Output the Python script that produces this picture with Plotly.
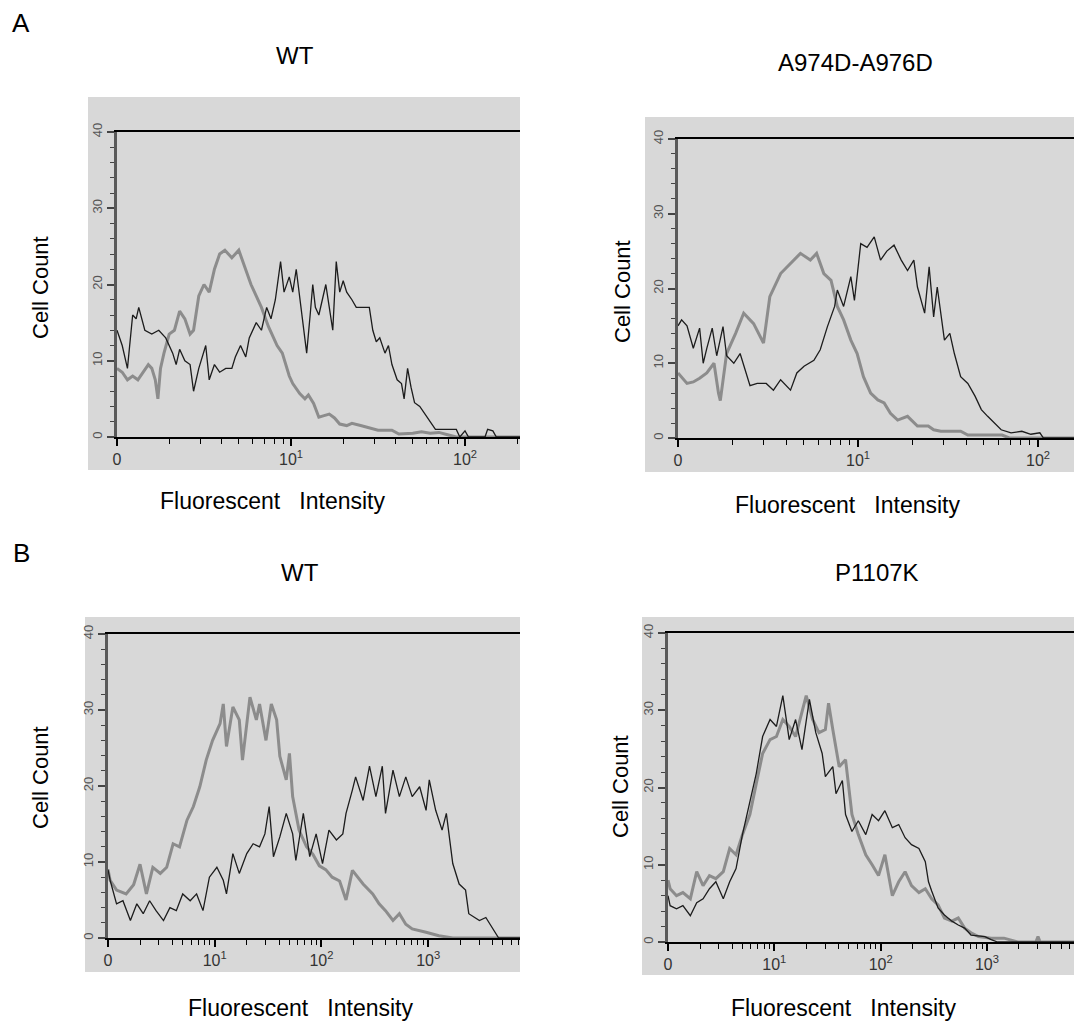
import plotly.graph_objects as go

W, H = 1082, 1025

# ---------------- DATA (x in decades: value = 10**exponent; y = cell count) ----------------
# Panel A - WT
A_WT_black_exp = [0.00, 0.03, 0.06, 0.09, 0.11, 0.125, 0.16, 0.20, 0.24, 0.28, 0.32, 0.34, 0.36, 0.39, 0.42,
                  0.44, 0.47, 0.51, 0.53, 0.56, 0.59, 0.625, 0.66, 0.68, 0.71, 0.74, 0.76, 0.80, 0.83, 0.86,
                  0.885, 0.91, 0.94, 0.96, 0.99, 1.01, 1.03, 1.05, 1.07, 1.09, 1.11, 1.125, 1.14, 1.16, 1.18,
                  1.20, 1.22, 1.24, 1.26, 1.28, 1.30, 1.32, 1.35, 1.375, 1.41, 1.45, 1.47, 1.49, 1.51, 1.54,
                  1.56, 1.58, 1.61, 1.635, 1.65, 1.67, 1.69, 1.71, 1.74, 1.77, 1.80, 1.83, 1.89, 1.95, 1.97,
                  2.00, 2.02, 2.115, 2.13, 2.16, 2.18, 2.32]
A_WT_black_cnt = [14, 12, 9, 16, 15.5, 17, 14, 13.5, 14, 13, 11, 9.5, 11.5, 10, 9.5,
                  6, 9, 12, 7.5, 9.5, 8.5, 9, 9, 10.5, 12, 10.5, 13, 15, 14, 17,
                  15.5, 18, 23, 19, 21, 19, 22, 18.5, 15, 11, 16, 20, 17, 16, 18,
                  20, 17, 14, 23, 19, 20.5, 19, 18, 17, 17, 17, 14, 12.5, 13, 11,
                  12, 9.5, 7.5, 7, 5, 9, 6.5, 4.5, 4, 3, 2, 1, 1, 1, 0,
                  0.8, 0, 0, 1, 0.8, 0, 0]
A_WT_gray_exp = [0.00, 0.03, 0.06, 0.09, 0.12, 0.15, 0.18, 0.20, 0.22, 0.235, 0.25, 0.27, 0.30, 0.33, 0.36,
                 0.39, 0.42, 0.44, 0.47, 0.50, 0.53, 0.56, 0.59, 0.62, 0.66, 0.70, 0.74, 0.77, 0.80, 0.83,
                 0.87, 0.90, 0.92, 0.95, 0.99, 1.01, 1.05, 1.08, 1.10, 1.13, 1.16, 1.19, 1.22, 1.25, 1.28,
                 1.32, 1.35, 1.40, 1.45, 1.50, 1.58, 1.62, 1.70, 1.75, 1.80, 1.85, 1.90, 1.95, 2.32]
A_WT_gray_cnt = [9, 8.5, 7.5, 8, 7.5, 8.5, 9.5, 9, 7.5, 5, 9, 11, 13.5, 14, 16.5,
                 15.5, 13.5, 14, 18.5, 20, 19, 22, 24, 24.5, 23.5, 24.5, 22, 20, 18.5, 17,
                 14.5, 13, 12, 11, 8, 7, 5.7, 5, 5.5, 4.4, 2.6, 2.8, 3, 2.5, 1.7,
                 1.5, 1.8, 1.5, 1.2, 0.9, 0.9, 0.4, 0.5, 0.7, 0.5, 0.6, 0.3, 0, 0]

# Panel A - A974D-A976D
A_MUT_black_exp = [0.00, 0.02, 0.05, 0.085, 0.12, 0.14, 0.16, 0.19, 0.215, 0.25, 0.27, 0.31, 0.345, 0.38, 0.40,
                   0.44, 0.49, 0.53, 0.57, 0.625, 0.66, 0.70, 0.755, 0.79, 0.83, 0.87, 0.885, 0.92, 0.96, 0.98,
                   1.015, 1.05, 1.09, 1.125, 1.16, 1.20, 1.24, 1.275, 1.31, 1.33, 1.37, 1.395, 1.42, 1.44, 1.48,
                   1.51, 1.535, 1.57, 1.61, 1.65, 1.685, 1.72, 1.76, 1.795, 1.85, 1.91, 1.96, 2.01, 2.03, 2.23]
A_MUT_black_cnt = [15, 15.8, 15, 12, 14.7, 10, 12, 14.7, 11, 14.9, 11, 10, 11.3, 8.7, 7,
                   7.3, 7.3, 6.4, 7.8, 6.4, 8.7, 9.6, 10.4, 11.8, 14.9, 17.6, 19.8, 17.6, 21.6, 18.4,
                   26, 25.5, 26.9, 23.8, 25, 25.8, 23.8, 22.4, 23.8, 20.2, 16.7, 22.9, 16.2, 20.2, 13.1,
                   14, 11.3, 8.2, 7.3, 5.6, 3.8, 2.9, 2, 1.1, 0.7, 0.9, 0.5, 0.7, 0, 0]
A_MUT_gray_exp = [0.00, 0.05, 0.085, 0.12, 0.16, 0.20, 0.225, 0.235, 0.27, 0.32, 0.365, 0.42, 0.475, 0.51, 0.57,
                  0.625, 0.68, 0.735, 0.77, 0.81, 0.85, 0.885, 0.92, 0.96, 0.995, 1.03, 1.07, 1.11, 1.145, 1.18,
                  1.22, 1.275, 1.33, 1.39, 1.42, 1.46, 1.57, 1.61, 1.80, 1.84, 2.23]
A_MUT_gray_cnt = [8.7, 7.3, 7.5, 8, 8.7, 10, 6, 5, 11.3, 14, 16.7, 15.3, 12.7, 18.9, 22,
                  23.3, 24.7, 23.8, 24.7, 22, 21.1, 17.6, 15.8, 13.1, 11.3, 8.2, 6, 5.1, 4.7, 3.3,
                  2.4, 2.9, 1.6, 1.6, 1.1, 0.9, 0.9, 0.4, 0.4, 0, 0]

# Panel B - WT
B_WT_black_exp = [0.00, 0.02, 0.08, 0.14, 0.21, 0.27, 0.33, 0.39, 0.45, 0.52, 0.58, 0.64, 0.70, 0.77, 0.83,
                  0.89, 0.95, 1.02, 1.08, 1.11, 1.17, 1.23, 1.30, 1.36, 1.42, 1.47, 1.51, 1.55, 1.61, 1.67,
                  1.73, 1.76, 1.83, 1.89, 1.95, 2.01, 2.07, 2.14, 2.20, 2.23, 2.29, 2.32, 2.39, 2.45, 2.51,
                  2.57, 2.60, 2.67, 2.73, 2.79, 2.85, 2.92, 2.98, 3.01, 3.07, 3.13, 3.17, 3.23, 3.29, 3.35,
                  3.38, 3.48, 3.54, 3.60, 3.66, 3.86]
B_WT_black_cnt = [9, 7.6, 4.5, 4.9, 2.3, 4.5, 3.2, 4.9, 3.6, 2.3, 4, 3.6, 5.8, 4.9, 5.8,
                  3.6, 8, 9.3, 7.6, 5.8, 11.1, 8.5, 11.1, 12.4, 12, 13.7, 17.3, 10.7, 13.3, 16.4,
                  13.7, 10.2, 16.4, 10.7, 13.7, 9.8, 14.2, 12.9, 13.7, 16.4, 19.5, 21.2, 18.1, 22.6, 18.6,
                  22.6, 16.4, 22.1, 18.6, 21.2, 18.6, 19.9, 16.8, 20.8, 16.8, 14.2, 16.4, 9.8, 7.1, 6.3,
                  3.2, 2.3, 2.7, 1.4, 0, 0]
B_WT_gray_exp = [0.00, 0.02, 0.08, 0.17, 0.24, 0.30, 0.36, 0.42, 0.49, 0.55, 0.61, 0.67, 0.74, 0.80, 0.86,
                 0.92, 0.98, 1.05, 1.08, 1.11, 1.17, 1.23, 1.26, 1.33, 1.39, 1.42, 1.48, 1.53, 1.58, 1.61,
                 1.67, 1.70, 1.73, 1.79, 1.86, 1.92, 1.98, 2.04, 2.10, 2.17, 2.23, 2.29, 2.39, 2.48, 2.54,
                 2.60, 2.67, 2.73, 2.79, 2.85, 2.98, 3.10, 3.23, 3.86]
B_WT_gray_cnt = [9, 7.6, 6.3, 5.8, 7, 9.7, 5.8, 9.3, 8.5, 9.3, 12.4, 12, 15.5, 17.3, 19.9,
                 23.4, 26, 28.2, 30.8, 25.2, 30.4, 28.7, 23.4, 31.7, 28.7, 30.8, 26, 30.8, 28.7, 23.9,
                 20.8, 24.3, 18.6, 14.2, 12, 11, 9.5, 9, 8, 7.5, 5, 8.9, 7.1, 5.8, 4.5,
                 3.6, 2.3, 3.2, 1.8, 1.2, 0.75, 0.3, 0, 0]

# Panel B - P1107K
B_MUT_black_exp = [0.00, 0.02, 0.08, 0.14, 0.21, 0.27, 0.33, 0.39, 0.45, 0.52, 0.58, 0.64, 0.70, 0.77, 0.83,
                   0.89, 0.96, 1.02, 1.08, 1.14, 1.20, 1.26, 1.33, 1.39, 1.45, 1.48, 1.55, 1.58, 1.64, 1.67,
                   1.73, 1.79, 1.86, 1.92, 1.98, 2.04, 2.11, 2.17, 2.23, 2.29, 2.36, 2.42, 2.45, 2.48, 2.54,
                   2.60, 2.67, 2.73, 2.79, 2.85, 2.98, 3.04, 3.10, 3.875]
B_MUT_black_cnt = [6, 4.7, 4.3, 4.7, 3.4, 5.1, 5.6, 6.9, 7.8, 5.6, 7.8, 9.5, 13.9, 18.3, 21.8,
                   26.6, 28.8, 27.9, 31.9, 26.2, 28.8, 24.9, 31.4, 27.1, 24.4, 21.4, 22.7, 19.2, 20.9, 16.5,
                   14.3, 15.7, 13.9, 16.5, 15.7, 17, 14.8, 15.2, 13.5, 12.6, 12.1, 10.4, 7.8, 6.6, 4.4,
                   3.5, 2.7, 2.2, 1.8, 0.9, 0.7, 0.3, 0, 0]
B_MUT_gray_exp = [0.00, 0.02, 0.08, 0.14, 0.21, 0.27, 0.33, 0.39, 0.45, 0.52, 0.58, 0.64, 0.70, 0.77, 0.83,
                  0.89, 0.96, 1.02, 1.08, 1.14, 1.20, 1.26, 1.30, 1.36, 1.42, 1.48, 1.51, 1.55, 1.61, 1.67,
                  1.73, 1.79, 1.86, 1.92, 1.98, 2.04, 2.11, 2.17, 2.23, 2.29, 2.36, 2.42, 2.48, 2.54, 2.60,
                  2.67, 2.73, 2.79, 2.85, 2.92, 3.04, 3.16, 3.29, 3.46, 3.48, 3.50, 3.875]
B_MUT_gray_cnt = [8, 6.9, 6, 6.4, 5.6, 9.1, 7.3, 8.6, 8.2, 9.1, 12.1, 11.3, 13.9, 16.5, 20.5,
                  24.4, 26.2, 26.6, 28.8, 27.9, 26.6, 29.7, 31.9, 28.8, 27.1, 27.5, 30.9, 27.5, 22.7, 23.6,
                  16.5, 13.9, 11.3, 10, 8.6, 11.3, 6, 7.8, 9.1, 7.3, 6.4, 6.9, 5.6, 4.8, 3.1,
                  2.7, 3.1, 1.8, 1.2, 0.7, 0.5, 0.5, 0, 0, 0.7, 0, 0]

Y_TICKS = [0, 10, 20, 30, 40]
X_TICK_LABELS = ["0", "10<sup>1</sup>", "10<sup>2</sup>", "10<sup>3</sup>"]

# ---------------- LAYOUT HELPERS ----------------
OFF = 8  # page body margin offset of the rendered figure

def px(x):
    return (x - OFF) / W

def py(y):
    return 1 - (y - OFF) / H

FONT = "Liberation Sans, Arial, Helvetica, sans-serif"
BLACK = "#1c1c1c"
GRAY = "#8c8c8c"
PANEL_BG = "#d8d8d8"

# panels: target pixel positions in the page
panels = [
    dict(x0=117, x1=520, y0=437, y1=132, xmax=2.316, box=(88, 520, 97, 470)),
    dict(x0=678, x1=1080, y0=438, y1=139, xmax=2.233, box=(645, 1090, 117, 472)),
    dict(x0=108, x1=520, y0=938, y1=634, xmax=3.86, box=(85, 520, 617, 972)),
    dict(x0=668, x1=1080, y0=942, y1=633, xmax=3.875, box=(642, 1090, 617, 975)),
]

series = [
    (A_WT_gray_exp, A_WT_gray_cnt, A_WT_black_exp, A_WT_black_cnt),
    (A_MUT_gray_exp, A_MUT_gray_cnt, A_MUT_black_exp, A_MUT_black_cnt),
    (B_WT_gray_exp, B_WT_gray_cnt, B_WT_black_exp, B_WT_black_cnt),
    (B_MUT_gray_exp, B_MUT_gray_cnt, B_MUT_black_exp, B_MUT_black_cnt),
]

fig = go.Figure()
layout = dict(
    width=W, height=H,
    margin=dict(l=0, r=0, t=0, b=0, pad=0, autoexpand=False),
    paper_bgcolor="white",
    plot_bgcolor="rgba(0,0,0,0)",
    showlegend=False,
    font=dict(family=FONT, color="black"),
    shapes=[], annotations=[],
)

for i, (p, s) in enumerate(zip(panels, series)):
    n = "" if i == 0 else str(i + 1)
    xa, ya = "x" + n, "y" + n
    ge, gc, be, bc = s
    fig.add_trace(go.Scatter(x=[10 ** e for e in ge], y=gc, mode="lines",
                             line=dict(color=GRAY, width=3), xaxis=xa, yaxis=ya,
                             hoverinfo="skip"))
    fig.add_trace(go.Scatter(x=[10 ** e for e in be], y=bc, mode="lines",
                             line=dict(color=BLACK, width=1.3), xaxis=xa, yaxis=ya,
                             hoverinfo="skip"))
    ndec = 4 if p["xmax"] > 3 else 3
    major = [10 ** d for d in range(ndec)]
    minor = [m * 10 ** d for d in range(ndec) for m in range(2, 10)]
    layout["xaxis" + n] = dict(
        domain=[px(p["x0"]), min(1.0, px(p["x1"]))], anchor=ya, type="log",
        range=[0, p["xmax"]], showgrid=False, zeroline=False, automargin=False,
        showline=True, linecolor="black", linewidth=2, mirror=True,
        ticks="outside", ticklen=7, tickwidth=1.5, tickcolor="black",
        tickvals=major, ticktext=X_TICK_LABELS[:ndec],
        tickfont=dict(size=16, color="#333"),
        minor=dict(tickvals=minor, ticks="outside", ticklen=5, tickwidth=1.3,
                   tickcolor="black", showgrid=False),
    )
    layout["yaxis" + n] = dict(
        domain=[py(p["y0"]), py(p["y1"])], anchor=xa,
        range=[0, 40], showgrid=False, zeroline=False, automargin=False,
        showline=True, linecolor="#5a5a5a", linewidth=2.5,
        ticks="outside", ticklen=7, tickwidth=1.5, tickcolor="#444",
        tickvals=Y_TICKS, tickangle=-90,
        tickfont=dict(size=13, color="#555"),
        minor=dict(dtick=2, ticks="outside", ticklen=4, tickwidth=1.2,
                   tickcolor="#444", showgrid=False),
    )
    bx0, bx1, by0, by1 = p["box"]
    layout["shapes"].append(dict(type="rect", xref="paper", yref="paper",
                                 x0=px(bx0), x1=px(bx1), y0=py(by1), y1=py(by0),
                                 fillcolor=PANEL_BG, line=dict(width=0), layer="below"))

def text(x, y, t, size, angle=0):
    layout["annotations"].append(dict(
        x=px(x), y=py(y), xref="paper", yref="paper", text=t, showarrow=False,
        xanchor="center", yanchor="middle", textangle=angle,
        font=dict(size=size, family=FONT, color="black")))

FI = "Fluorescent\u00a0\u00a0\u00a0Intensity"
text(21, 23, "A", 26)
text(21, 553, "B", 26)
text(295, 55, "WT", 24)
text(855, 62, "A974D-A976D", 24)
text(300, 572, "WT", 24)
text(877, 572, "P1107K", 24)
text(272, 501, FI, 23)
text(848, 505, FI, 23)
text(300, 1008, FI, 23)
text(843, 1008, FI, 23)
text(40, 288, "Cell Count", 22, -90)
text(622, 292, "Cell Count", 22, -90)
text(40, 778, "Cell Count", 22, -90)
text(620, 787, "Cell Count", 22, -90)

fig.update_layout(**layout)
fig.write_html("out.html")
